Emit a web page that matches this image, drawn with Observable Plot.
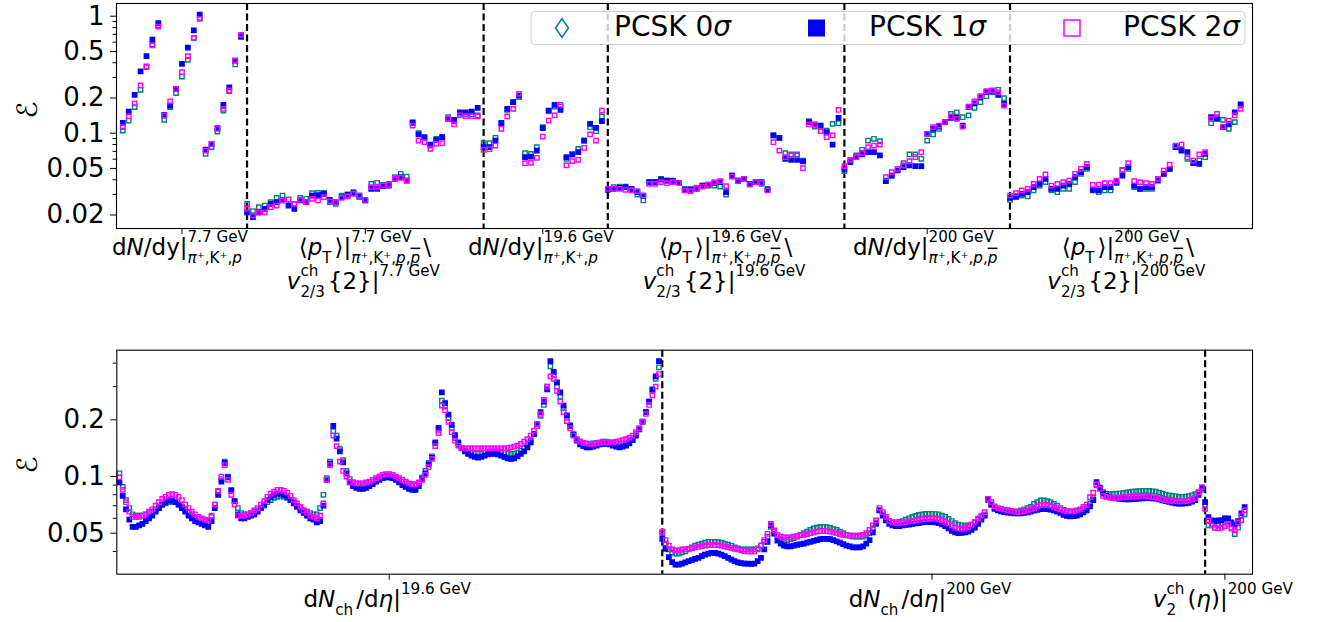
<!DOCTYPE html>
<html><head><meta charset="utf-8">
<script src="https://cdn.jsdelivr.net/npm/d3@7"></script>
<script src="https://cdn.jsdelivr.net/npm/@observablehq/plot@0.6"></script>
<style>
body{margin:0;background:#fff;overflow:hidden}
#wrap{position:relative;width:1330px;height:622px;font-family:"DejaVu Sans"}
#top,#bot{position:absolute;left:0}
#top{top:0}#bot{top:300px}
</style></head><body>
<div id="wrap"><div id="top"></div><div id="bot"></div></div>
<script>
// ---------- series ----------
const seriesNames = ["PCSK 0\u03c3", "PCSK 1\u03c3", "PCSK 2\u03c3"];
const seriesColors = ["#008080", "#0000ff", "#ff00ff"];
const energies = ["7.7", "19.6", "200"];

// ---------- top panel (index-ordered observables) ----------
const topDividers = [21, 61, 82, 122, 150];
const topTickPos = [10, 41, 71, 102, 136, 170];
const topMajorY = [1, 0.5, 0.2, 0.1, 0.05, 0.02];
const topMinorY = [0.03,0.04,0.06,0.07,0.08,0.09,0.3,0.4,0.6,0.7,0.8,0.9];

const topPCSK0 = [
 0.1054,0.1284,0.167,0.235,0.367,0.573,0.833, 0.130,0.167,0.220,0.305,0.424,0.653,0.968, 0.0666,0.076,0.1034,0.156,0.229,0.387,0.662,
 0.0249,0.0216,0.0233,0.0241,0.0257,0.028,0.0293,0.0271,0.0249,0.028,0.0275,0.0307,0.0309,0.0309,0.0257,0.0249,0.0293,0.0299,0.0313,0.0284,0.0266,0.0369,0.0377,0.0362,0.0369,0.0421,0.045,0.0426,
 0.1243,0.100,0.0913,0.0785,0.0895,0.0925,0.137,0.1267,0.146,0.1445,0.1445,0.1417,
 0.0822,0.0822,0.0913,0.1202,0.158,0.184,0.203, 0.0675,0.0666,0.076,0.1126,0.155,0.169,0.169, 0.0604,0.0658,0.0735,0.0866,0.1126,0.104,0.139,
 0.0335,0.0346,0.035,0.035,0.0328,0.0299,0.0266, 0.0382,0.0382,0.0407,0.0394,0.0394,0.0374,0.0335, 0.0335,0.0341,0.0357,0.0357,0.0357,0.035,0.0299, 0.0435,0.0394,0.0407,0.0369,0.0382,0.0369,0.0335,
 0.0956,0.0913,0.0675,0.0658,0.0658,0.0584,0.1267,0.1141,0.104,0.1054,0.1202,0.1218,
 0.0474,0.0584,0.0645,0.0721,0.0866,0.0895,0.0855, 0.0394,0.0435,0.0496,0.0554,0.0658,0.0658,0.0604, 0.0866,0.0975,0.109,0.1243,0.146,0.151,0.137, 0.1417,0.165,0.184,0.207,0.224,0.235,0.199,
 0.0269,0.0284,0.0293,0.0288,0.0324,0.0357,0.0382, 0.0324,0.0313,0.0335,0.0335,0.0382,0.045,0.0496, 0.0324,0.0313,0.0324,0.0324,0.0374,0.048,0.0496, 0.0346,0.0335,0.0335,0.0335,0.0407,0.045,0.0496,
 0.076,0.0721,0.0604,0.0554,0.0584,0.0624,0.1218,0.137,0.130,0.109,0.1243,0.172
];
const topPCSK1 = [
 0.1226,0.153,0.213,0.337,0.455,0.632,0.872, 0.1435,0.172,0.239,0.392,0.540,0.755,1.034, 0.0725,0.0811,0.1104,0.175,0.247,0.418,0.675,
 0.0211,0.0192,0.0211,0.0226,0.0249,0.0257,0.0266,0.0241,0.0226,0.0266,0.0257,0.0293,0.0296,0.0303,0.0269,0.0257,0.0284,0.0299,0.0307,0.0293,0.0266,0.0335,0.0335,0.0353,0.0357,0.0407,0.0421,0.0394,
 0.1226,0.0975,0.0925,0.080,0.0878,0.0925,0.1327,0.130,0.151,0.151,0.153,0.165,
 0.076,0.076,0.0866,0.1226,0.1615,0.184,0.210, 0.0624,0.0632,0.0711,0.1104,0.156,0.175,0.158, 0.0624,0.0658,0.0688,0.0866,0.1202,0.1111,0.1267,
 0.0328,0.0335,0.0341,0.0346,0.0335,0.0313,0.0293, 0.0382,0.0382,0.0402,0.0394,0.0389,0.0374,0.0328, 0.0328,0.0335,0.0357,0.0364,0.0374,0.0382,0.0313, 0.0435,0.0394,0.0407,0.0369,0.0382,0.0382,0.0328,
 0.0956,0.0913,0.0604,0.0592,0.0592,0.0573,0.1243,0.1187,0.1163,0.102,0.080,0.1353,
 0.0496,0.0565,0.0624,0.0658,0.0688,0.0688,0.0645, 0.0389,0.0435,0.048,0.0513,0.053,0.0523,0.0523, 0.0988,0.109,0.1141,0.1243,0.1353,0.1353,0.1163, 0.167,0.180,0.203,0.224,0.229,0.213,0.178,
 0.028,0.0288,0.0303,0.0313,0.0346,0.0369,0.0407, 0.0335,0.0335,0.0357,0.0369,0.0421,0.0465,0.0513, 0.0328,0.0324,0.0346,0.0346,0.0382,0.0435,0.0513, 0.0357,0.0335,0.0346,0.0346,0.0394,0.045,0.0496,
 0.076,0.0711,0.0688,0.0554,0.0547,0.0666,0.137,0.1327,0.1126,0.1202,0.151,0.176
];
const topPCSK2 = [
 0.1126,0.139,0.180,0.256,0.372,0.562,0.816, 0.1417,0.187,0.239,0.332,0.455,0.653,0.949, 0.0711,0.0811,0.109,0.1615,0.232,0.418,0.693,
 0.0226,0.0198,0.0209,0.0211,0.0233,0.0241,0.0266,0.0271,0.0249,0.0269,0.0257,0.0275,0.0266,0.0284,0.0261,0.0257,0.028,0.0288,0.0303,0.0293,0.0269,0.0346,0.035,0.0357,0.0362,0.0407,0.0416,0.0394,
 0.1163,0.0866,0.0838,0.0735,0.0811,0.0822,0.1327,0.1187,0.1417,0.1398,0.1398,0.139,
 0.0721,0.073,0.0785,0.109,0.139,0.1615,0.217, 0.0554,0.0558,0.0616,0.0937,0.1284,0.1417,0.175, 0.053,0.0577,0.0592,0.075,0.0975,0.0866,0.156,
 0.0335,0.0335,0.0335,0.0328,0.0324,0.032,0.0293, 0.0369,0.0369,0.0382,0.0374,0.0382,0.0374,0.0324, 0.032,0.0335,0.035,0.0364,0.0382,0.0389,0.0353, 0.0426,0.0389,0.0407,0.0364,0.0382,0.0374,0.0324,
 0.0838,0.0711,0.0624,0.0645,0.0645,0.0502,0.1187,0.1179,0.104,0.0925,0.0956,0.158,
 0.0523,0.0592,0.0624,0.068,0.076,0.0785,0.080, 0.0421,0.0465,0.0496,0.053,0.0577,0.0624,0.0688, 0.0988,0.1126,0.1163,0.1243,0.139,0.1327,0.1141, 0.169,0.187,0.207,0.229,0.232,0.224,0.172,
 0.0293,0.0307,0.0324,0.0335,0.0369,0.0407,0.0444, 0.0357,0.0369,0.0382,0.0394,0.045,0.0496,0.0547, 0.0362,0.0364,0.0374,0.0374,0.0394,0.0486,0.0554, 0.0389,0.0382,0.0374,0.0369,0.0407,0.048,0.054,
 0.0785,0.080,0.0624,0.0584,0.0658,0.0688,0.1327,0.146,0.1141,0.1284,0.1417,0.1615
];

// ---------- bottom panel: dNch/deta (19.6 GeV: 5 bins, 200 GeV: 5 bins) + v2(eta) ----------
const botDividers = [165, 330];
const botTickPos = [82, 247, 336];
const botMajorY = [0.2, 0.1, 0.05];
const botMinorY = [0.04,0.06,0.07,0.08,0.09,0.3,0.4];

const dNdetaPCSK0 = [
 0.104,0.088,0.075,0.068,0.063,0.062,0.062,0.062,0.063,0.064,0.065,0.067,0.069,0.071,0.072,0.073,0.0735,0.073,0.071,0.069,0.067,0.065,0.063,0.061,0.060,0.059,0.058,0.057,0.061,0.071,0.083,0.097,0.12,
 0.1,0.085,0.074,0.068,0.064,0.063,0.063,0.064,0.065,0.066,0.068,0.070,0.073,0.075,0.077,0.078,0.079,0.078,0.077,0.075,0.073,0.070,0.068,0.066,0.065,0.064,0.063,0.063,0.068,0.080,0.098,0.120,0.174,
 0.165,0.14,0.122,0.107,0.097,0.093,0.091,0.090,0.090,0.091,0.092,0.094,0.096,0.098,0.100,0.101,0.101,0.100,0.098,0.096,0.094,0.092,0.091,0.090,0.090,0.092,0.099,0.107,0.118,0.128,0.15,0.175,0.253,
 0.235,0.205,0.18,0.16,0.148,0.141,0.137,0.135,0.134,0.133,0.133,0.133,0.134,0.135,0.136,0.136,0.136,0.135,0.134,0.133,0.132,0.132,0.134,0.137,0.141,0.147,0.155,0.168,0.185,0.21,0.24,0.30,0.385,
 0.345,0.30,0.265,0.23,0.205,0.185,0.168,0.158,0.153,0.15,0.149,0.149,0.15,0.151,0.152,0.153,0.153,0.152,0.151,0.15,0.149,0.149,0.151,0.155,0.16,0.168,0.18,0.196,0.22,0.25,0.285,0.33,0.38,
 0.05,0.044,0.041,0.0395,0.039,0.039,0.0395,0.040,0.041,0.042,0.043,0.0435,0.044,0.0445,0.045,0.045,0.045,0.0448,0.0445,0.044,0.0435,0.043,0.042,0.0415,0.041,0.041,0.041,0.041,0.041,0.0415,0.043,0.045,0.048,
 0.054,0.051,0.048,0.0465,0.046,0.046,0.0465,0.047,0.048,0.049,0.05,0.051,0.052,0.053,0.0535,0.054,0.054,0.0538,0.0533,0.0526,0.052,0.051,0.050,0.049,0.0485,0.048,0.048,0.048,0.048,0.049,0.050,0.053,0.057,
 0.066,0.063,0.060,0.058,0.057,0.057,0.0575,0.058,0.059,0.060,0.061,0.0618,0.0625,0.063,0.0633,0.0634,0.0634,0.0632,0.063,0.062,0.061,0.0595,0.058,0.0565,0.0555,0.055,0.0548,0.055,0.0555,0.057,0.059,0.061,0.063,
 0.075,0.071,0.0685,0.067,0.066,0.0655,0.0652,0.065,0.065,0.0652,0.066,0.067,0.068,0.069,0.0715,0.073,0.0746,0.0746,0.074,0.073,0.0715,0.07,0.068,0.0665,0.065,0.0646,0.0646,0.065,0.066,0.0675,0.069,0.072,0.077,
 0.0896,0.0875,0.0826,0.081,0.0805,0.0805,0.081,0.0812,0.0815,0.082,0.0825,0.083,0.0834,0.0837,0.084,0.084,0.0838,0.0835,0.083,0.0822,0.0812,0.0802,0.0795,0.079,0.0785,0.078,0.078,0.0782,0.0787,0.0795,0.0805,0.082,0.085
];
const dNdetaPCSK1 = [
 0.093,0.079,0.067,0.059,0.054,0.054,0.055,0.056,0.058,0.060,0.062,0.065,0.068,0.071,0.073,0.0746,0.0746,0.073,0.071,0.068,0.065,0.062,0.060,0.058,0.057,0.056,0.055,0.054,0.058,0.068,0.080,0.094,0.118,
 0.099,0.084,0.074,0.063,0.060,0.060,0.061,0.062,0.063,0.065,0.068,0.071,0.075,0.078,0.080,0.081,0.081,0.080,0.078,0.075,0.072,0.069,0.066,0.064,0.062,0.060,0.059,0.057,0.058,0.070,0.096,0.117,0.186,
 0.159,0.136,0.119,0.104,0.093,0.089,0.087,0.086,0.086,0.087,0.089,0.091,0.094,0.096,0.098,0.099,0.099,0.098,0.096,0.093,0.090,0.088,0.086,0.085,0.085,0.089,0.097,0.104,0.116,0.126,0.152,0.181,0.28,
 0.245,0.213,0.188,0.166,0.152,0.142,0.136,0.132,0.129,0.127,0.126,0.127,0.129,0.131,0.132,0.132,0.131,0.129,0.127,0.125,0.124,0.125,0.128,0.132,0.136,0.143,0.152,0.168,0.19,0.22,0.25,0.29,0.41,
 0.36,0.316,0.28,0.238,0.211,0.187,0.167,0.155,0.148,0.145,0.143,0.143,0.144,0.146,0.148,0.149,0.149,0.148,0.146,0.144,0.143,0.144,0.146,0.150,0.156,0.165,0.178,0.195,0.22,0.25,0.29,0.34,0.41,
 0.0467,0.0413,0.0373,0.0351,0.034,0.034,0.0345,0.035,0.0355,0.036,0.0365,0.037,0.0378,0.0385,0.039,0.0393,0.0393,0.039,0.0385,0.0378,0.037,0.0362,0.0355,0.035,0.0347,0.0345,0.0345,0.0344,0.0345,0.0355,0.037,0.041,0.045,
 0.055,0.0497,0.0457,0.044,0.043,0.0425,0.0425,0.043,0.0433,0.0437,0.044,0.0445,0.045,0.0455,0.046,0.0465,0.0467,0.0467,0.0465,0.046,0.0453,0.0445,0.0437,0.043,0.0425,0.042,0.042,0.042,0.0425,0.044,0.046,0.0505,0.056,
 0.066,0.062,0.0584,0.056,0.055,0.0545,0.0545,0.055,0.0553,0.0556,0.056,0.0563,0.0566,0.057,0.0572,0.0573,0.0573,0.057,0.0565,0.0557,0.0545,0.053,0.0515,0.0505,0.050,0.0502,0.0505,0.051,0.052,0.0535,0.056,0.059,0.062,
 0.076,0.0708,0.0674,0.066,0.0652,0.0646,0.0642,0.064,0.0638,0.0637,0.0638,0.064,0.0645,0.065,0.0658,0.0665,0.0672,0.0674,0.0672,0.0667,0.066,0.065,0.064,0.0625,0.0617,0.0615,0.0616,0.062,0.063,0.0645,0.066,0.0694,0.075,
 0.0933,0.0867,0.081,0.079,0.0775,0.077,0.0765,0.076,0.0758,0.0757,0.0757,0.0758,0.076,0.0762,0.0765,0.0767,0.0768,0.0766,0.0762,0.0755,0.0747,0.074,0.0733,0.0727,0.072,0.0718,0.0718,0.072,0.0725,0.0735,0.075,0.08,0.087
];
const dNdetaPCSK2 = [
 0.099,0.085,0.073,0.065,0.061,0.061,0.061,0.062,0.063,0.065,0.067,0.070,0.073,0.076,0.078,0.080,0.0805,0.080,0.078,0.075,0.071,0.068,0.065,0.063,0.061,0.060,0.059,0.0585,0.062,0.071,0.084,0.100,0.115,
 0.096,0.080,0.071,0.062,0.062,0.062,0.063,0.064,0.066,0.068,0.071,0.074,0.078,0.081,0.083,0.085,0.085,0.084,0.082,0.079,0.075,0.072,0.069,0.066,0.064,0.062,0.061,0.060,0.062,0.072,0.096,0.115,0.165,
 0.145,0.12,0.107,0.10,0.093,0.093,0.092,0.092,0.092,0.093,0.094,0.096,0.098,0.100,0.102,0.103,0.103,0.102,0.100,0.098,0.096,0.094,0.092,0.091,0.091,0.093,0.096,0.102,0.112,0.124,0.145,0.17,0.238,
 0.225,0.195,0.172,0.155,0.146,0.142,0.141,0.141,0.141,0.141,0.141,0.141,0.141,0.141,0.141,0.141,0.141,0.141,0.141,0.142,0.143,0.144,0.146,0.149,0.153,0.158,0.165,0.175,0.19,0.215,0.255,0.30,0.34,
 0.33,0.285,0.25,0.22,0.197,0.18,0.165,0.157,0.153,0.151,0.15,0.149,0.149,0.15,0.151,0.152,0.152,0.152,0.152,0.153,0.154,0.156,0.158,0.161,0.165,0.172,0.18,0.195,0.215,0.24,0.27,0.30,0.35,
 0.051,0.046,0.043,0.041,0.0405,0.0405,0.041,0.041,0.0413,0.0416,0.042,0.0423,0.0427,0.043,0.0432,0.0433,0.0433,0.0432,0.043,0.0426,0.0422,0.0418,0.0413,0.041,0.0405,0.0402,0.040,0.040,0.040,0.041,0.043,0.046,0.0496,
 0.056,0.0517,0.049,0.048,0.0475,0.0475,0.0475,0.048,0.0483,0.0487,0.049,0.0495,0.050,0.0505,0.051,0.0512,0.0513,0.0512,0.051,0.0505,0.050,0.0495,0.049,0.0487,0.0485,0.0485,0.0485,0.0487,0.049,0.050,0.052,0.055,0.0584,
 0.068,0.0646,0.061,0.058,0.057,0.0568,0.0568,0.057,0.0573,0.0577,0.058,0.0585,0.059,0.0593,0.0595,0.0596,0.0596,0.0595,0.0592,0.0585,0.0575,0.0563,0.0548,0.0535,0.053,0.0528,0.053,0.054,0.0555,0.0575,0.06,0.062,0.0646,
 0.076,0.073,0.0695,0.068,0.0673,0.0667,0.0662,0.0656,0.065,0.0646,0.0648,0.0655,0.066,0.067,0.068,0.0695,0.0705,0.0708,0.0705,0.07,0.069,0.068,0.067,0.066,0.0655,0.0652,0.0655,0.066,0.067,0.069,0.071,0.0776,0.082,
 0.091,0.086,0.079,0.078,0.0775,0.077,0.077,0.0772,0.0775,0.0778,0.078,0.0782,0.0784,0.0786,0.0786,0.0785,0.0782,0.0778,0.0772,0.0765,0.0757,0.075,0.0745,0.074,0.0737,0.0737,0.0738,0.074,0.0745,0.0755,0.077,0.0826,0.0878
];
const v2PCSK0 = [0.07,0.055,0.056,0.0535,0.055,0.056,0.057,0.058,0.0535,0.0495,0.0535,0.0585,0.063];
const v2PCSK1 = [0.073,0.0608,0.0584,0.058,0.0584,0.0584,0.06,0.06,0.057,0.0555,0.058,0.0637,0.0687];
const v2PCSK2 = [0.0674,0.0585,0.055,0.0535,0.053,0.0535,0.0545,0.056,0.0528,0.0517,0.057,0.062,0.066];

// ---------- helpers ----------
const rows = arr => arr.map((v, i) => ({i, v}));
const topData = [topPCSK0, topPCSK1, topPCSK2].map(rows);
const botData = [
  [...dNdetaPCSK0, ...v2PCSK0], [...dNdetaPCSK1, ...v2PCSK1], [...dNdetaPCSK2, ...v2PCSK2]
].map(rows);

function seriesMarks(data) {
  return [
    Plot.dot(data[0], {x: "i", y: "v", symbol: "square", r: 2.45, fill: "none", stroke: seriesColors[0], strokeWidth: 1.4}),
    Plot.dot(data[1], {x: "i", y: "v", symbol: "square", r: 2.45, fill: seriesColors[1], stroke: seriesColors[1], strokeWidth: 1.4}),
    Plot.dot(data[2], {x: "i", y: "v", symbol: "square", r: 2.45, fill: "none", stroke: seriesColors[2], strokeWidth: 1.4})
  ];
}

function panel({height, mt, mb, ml, xdom, ydom, data, dividers, ticks, major, minor}) {
  return Plot.plot({
    width: 1330, height, marginTop: mt, marginBottom: mb, marginLeft: ml, marginRight: 78,
    style: {fontFamily: "DejaVu Sans", fontSize: "26px", color: "black", background: "white"},
    x: {domain: xdom, label: null},
    y: {type: "log", domain: ydom, label: null},
    marks: [
      Plot.ruleX(dividers, {stroke: "black", strokeWidth: 2.2, strokeDasharray: "7,3.5"}),
      ...seriesMarks(data),
      Plot.frame({stroke: "black", strokeWidth: 1.1}),
      Plot.axisY({ticks: major, tickFormat: d => String(d), tickSize: 6, tickPadding: 6}),
      Plot.axisY({ticks: minor, tickFormat: () => "", tickSize: 3.5}),
      Plot.axisX({ticks: ticks, tickFormat: () => "", tickSize: 6})
    ]
  });
}

const topPlot = panel({height: 300, mt: 3, mb: 72, ml: 116, xdom: [-1.07, 191], ydom: [0.01533, 1.284],
  data: topData, dividers: topDividers, ticks: topTickPos, major: topMajorY, minor: topMinorY});
const botPlot = panel({height: 322, mt: 49.7, mb: 48.3, ml: 116.3, xdom: [-0.8, 344.4], ydom: [0.03028, 0.4686],
  data: botData, dividers: botDividers, ticks: botTickPos, major: botMajorY, minor: botMinorY});
document.getElementById("top").appendChild(topPlot);
document.getElementById("bot").appendChild(botPlot);

// rich tick labels (matplotlib-style mathtext)
function richLabel(svg, cx, base, parts, S) {
  const g = d3.select(svg).append("g").attr("font-family", "DejaVu Sans").attr("fill", "black")
    .attr("text-anchor", "start");
  let x = 0;
  const small = S * 0.66;
  function addText(spans, y, size) {
    const t = g.append("text").attr("x", x).attr("y", y).attr("font-size", size).attr("text-anchor", "start");
    for (const [s, it, over] of spans) {
      const ts = t.append("tspan").text(s).attr("font-style", it ? "italic" : "normal");
      if (over) ts.attr("text-decoration", "overline");
    }
    return t.node().getComputedTextLength();
  }
  for (const p of parts) {
    if (p.m) x += addText(p.m, base, S);
    else {
      const w1 = p.sup ? addText(p.sup, base - S * 0.55, small) : 0;
      const w2 = p.sub ? addText(p.sub, base + S * 0.33, small) : 0;
      x += Math.max(w1, w2) + 3;
    }
  }
  g.attr("transform", `translate(${cx - x / 2},0)`);
}
const sub3 = [["\u03c0", 1], ["\u207a,K\u207a,"], ["p", 1]];
const sub4 = [["\u03c0", 1], ["\u207a,K\u207a,"], ["p", 1], [","], ["p", 1, 1]];
const dNdyLabel = (E, s) => [{m: [["d"], ["N", 1], ["/dy|"]]}, {sup: [[E + " GeV"]], sub: s}];
const pTLabel = E => [{m: [["\u27e8"], ["p", 1]]}, {sub: [["T"]]}, {m: [["\u27e9|"]]}, {sup: [[E + " GeV"]], sub: sub4}, {m: [["\\"]]}];
const vnLabel = E => [{m: [["v", 1]]}, {sup: [["ch"]], sub: [["2/3"]]}, {m: [["{2}|"]]}, {sup: [[E + " GeV"]]}];

const sxT = topPlot.scale("x");
const topLabels = [
  [dNdyLabel(energies[0], sub3)], [pTLabel(energies[0]), vnLabel(energies[0])],
  [dNdyLabel(energies[1], sub3)], [pTLabel(energies[1]), vnLabel(energies[1])],
  [dNdyLabel(energies[2], sub4)], [pTLabel(energies[2]), vnLabel(energies[2])]
];
topLabels.forEach((lines, k) => {
  const cx = sxT.apply(topTickPos[k]);
  lines.forEach((parts, j) => richLabel(topPlot, cx, j === 0 ? 255 : 289, parts, 23));
});

const sxB = botPlot.scale("x");
const botLabels = [
  [{m: [["d"], ["N", 1]]}, {sub: [["ch"]]}, {m: [["/d"], ["\u03b7", 1], ["|"]]}, {sup: [[energies[1] + " GeV"]]}],
  [{m: [["d"], ["N", 1]]}, {sub: [["ch"]]}, {m: [["/d"], ["\u03b7", 1], ["|"]]}, {sup: [[energies[2] + " GeV"]]}],
  [{m: [["v", 1]]}, {sup: [["ch"]], sub: [["2"]]}, {m: [["("], ["\u03b7", 1], [")|"]]}, {sup: [[energies[2] + " GeV"]]}]
];
botLabels.forEach((parts, k) => richLabel(botPlot, sxB.apply(botTickPos[k]), 307, parts, 23));

// y-axis titles
[[topPlot, 110], [botPlot, 165]].forEach(([svg, y]) => {
  d3.select(svg).append("text").attr("transform", `translate(27,${y}) rotate(-90)`)
    .attr("text-anchor", "middle").attr("dominant-baseline", "central")
    .attr("font-family", "DejaVu Sans").attr("font-size", 28).text("\u2130");
});

// legend
const lg = d3.select(topPlot).append("g").attr("text-anchor", "start");
lg.append("rect").attr("x", 531).attr("y", 11.5).attr("width", 714).attr("height", 33).attr("rx", 4)
  .attr("fill", "white").attr("fill-opacity", 0.8).attr("stroke", "#cccccc").attr("stroke-width", 1);
lg.append("path").attr("d", "M562,18.5L568.5,28L562,37.5L555.5,28Z").attr("fill", "none")
  .attr("stroke", seriesColors[0]).attr("stroke-width", 1.5);
lg.append("rect").attr("x", 808).attr("y", 19.5).attr("width", 17).attr("height", 17).attr("fill", seriesColors[1]);
lg.append("rect").attr("x", 1064).attr("y", 20).attr("width", 16).attr("height", 16).attr("fill", "none")
  .attr("stroke", seriesColors[2]).attr("stroke-width", 1.5);
[[614, 0], [869, 1], [1123, 2]].forEach(([x, k]) => {
  const t = lg.append("text").attr("x", x).attr("y", 35.5).attr("font-family", "DejaVu Sans")
    .attr("font-size", 28).attr("fill", "black").attr("text-anchor", "start");
  const nm = seriesNames[k];
  t.append("tspan").text(nm.slice(0, -1));
  t.append("tspan").attr("font-style", "italic").text(nm.slice(-1));
});
</script>
</body></html>
